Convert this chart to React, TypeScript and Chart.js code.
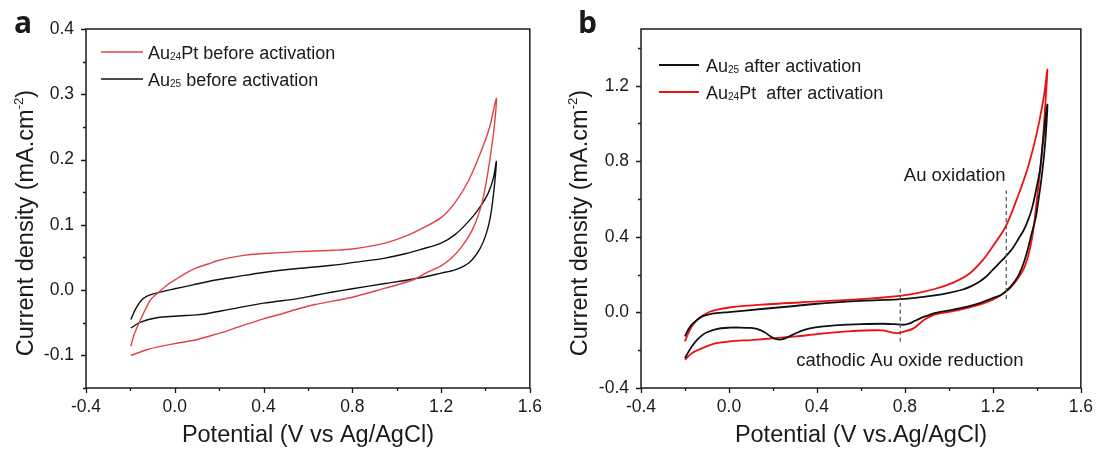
import React, { useEffect, useRef } from "react";
import { Chart, registerables } from "chart.js";

Chart.register(...registerables);

// ---------- Panel a data (before activation) ----------
const aPtV = [
  -0.198, -0.185, -0.17, -0.154, -0.13, -0.107, -0.068, -0.03, 0.003, 0.05, 0.098, 0.15, 0.192, 0.24, 0.318, 0.4, 0.554,
  0.712, 0.8, 0.948, 1.043, 1.106, 1.2, 1.263, 1.326, 1.389, 1.42, 1.449,
  1.44, 1.42, 1.4, 1.381, 1.342, 1.294, 1.247, 1.2, 1.137, 1.082, 1.011, 0.948, 0.8, 0.712, 0.633, 0.554, 0.476,
  0.4, 0.318, 0.24, 0.161, 0.098, 0, -0.076, -0.123, -0.198,
];
const aPtJ = [
  -0.086, -0.07, -0.057, -0.045, -0.028, -0.014, -0.002, 0.009, 0.016, 0.026, 0.034, 0.04, 0.045, 0.049, 0.0535, 0.056, 0.059,
  0.061, 0.063, 0.072, 0.083, 0.093, 0.111, 0.134, 0.169, 0.22, 0.251, 0.294,
  0.251, 0.2, 0.159, 0.129, 0.093, 0.067, 0.049, 0.037, 0.027, 0.017, 0.009, 0.003, -0.011, -0.017, -0.022, -0.029, -0.037,
  -0.044, -0.053, -0.062, -0.07, -0.076, -0.082, -0.087, -0.091, -0.1,
];
const aAuV = [
  -0.198, -0.178, -0.154, -0.123, -0.076, 0, 0.082, 0.161, 0.287, 0.4, 0.554, 0.712, 0.8, 0.948, 1.043, 1.106, 1.2,
  1.263, 1.326, 1.373, 1.413, 1.436, 1.449,
  1.44, 1.425, 1.405, 1.373, 1.326, 1.263, 1.2, 1.106, 0.948, 0.8, 0.712, 0.633, 0.554, 0.4, 0.24, 0.161, 0.098, 0.05,
  0, -0.076, -0.154, -0.198,
];
const aAuJ = [
  -0.045, -0.03, -0.017, -0.009, -0.004, 0.002, 0.008, 0.014, 0.021, 0.027, 0.033, 0.038, 0.042, 0.049, 0.056, 0.062, 0.072,
  0.085, 0.106, 0.126, 0.149, 0.172, 0.197,
  0.159, 0.118, 0.088, 0.062, 0.042, 0.031, 0.026, 0.019, 0.01, 0.002, -0.003, -0.008, -0.013, -0.02, -0.03, -0.035, -0.038, -0.039,
  -0.04, -0.042, -0.049, -0.058,
];

// ---------- Panel b data (after activation) ----------
const bAuV = [
  -0.2, -0.185, -0.169, -0.145, -0.121, -0.09, -0.058, 0, 0.147, 0.3, 0.4, 0.52, 0.62, 0.8, 0.935, 1.0, 1.06, 1.1, 1.14,
  1.17, 1.2, 1.23, 1.259, 1.29, 1.314, 1.34, 1.361, 1.38, 1.4, 1.415, 1.424, 1.433, 1.44, 1.448,
  1.444, 1.438, 1.43, 1.42, 1.408, 1.395, 1.377, 1.36, 1.345, 1.33, 1.314, 1.29, 1.267, 1.24, 1.2, 1.14, 1.08, 1.014, 0.96,
  0.935, 0.9, 0.872, 0.845, 0.825, 0.8, 0.75, 0.699, 0.6, 0.541, 0.47, 0.4, 0.35, 0.304, 0.27, 0.24, 0.21, 0.19, 0.162,
  0.13, 0.1, 0.05, 0, -0.058, -0.1, -0.121, -0.145, -0.169, -0.185, -0.2,
];
const bAuJ = [
  -0.127, -0.09, -0.065, -0.04, -0.021, -0.01, -0.004, 0.002, 0.018, 0.034, 0.046, 0.056, 0.062, 0.072, 0.09, 0.103, 0.12,
  0.138, 0.164, 0.19, 0.226, 0.262, 0.297, 0.34, 0.385, 0.435, 0.491, 0.56, 0.668, 0.76, 0.862, 0.96, 1.039, 1.1,
  1.0, 0.9, 0.8, 0.7, 0.6, 0.5, 0.42, 0.34, 0.279, 0.23, 0.191, 0.15, 0.12, 0.095, 0.076, 0.049, 0.03, 0.014, 0.003,
  -0.004, -0.018, -0.03, -0.045, -0.057, -0.065, -0.062, -0.06, -0.062, -0.065, -0.07, -0.078, -0.09, -0.11, -0.13, -0.143,
  -0.14, -0.128, -0.105, -0.088, -0.082, -0.08, -0.081, -0.088, -0.105, -0.12, -0.145, -0.18, -0.21, -0.242,
];
const bPtV = [
  -0.2, -0.185, -0.169, -0.145, -0.121, -0.09, -0.058, 0, 0.147, 0.4, 0.62, 0.778, 0.856, 0.935, 1.014, 1.093, 1.156, 1.2,
  1.259, 1.314, 1.361, 1.4, 1.432, 1.448,
  1.44, 1.424, 1.4, 1.377, 1.345, 1.298, 1.251, 1.2, 1.14, 1.014, 0.935, 0.888, 0.841, 0.8, 0.762, 0.699, 0.541, 0.4,
  0.304, 0.21, 0.115, 0, -0.058, -0.121, -0.169, -0.2,
];
const bPtJ = [
  -0.154, -0.11, -0.074, -0.04, -0.018, 0.002, 0.014, 0.026, 0.041, 0.058, 0.072, 0.088, 0.102, 0.124, 0.155, 0.205, 0.279,
  0.35, 0.456, 0.615, 0.774, 0.95, 1.145, 1.286,
  1.127, 0.862, 0.597, 0.385, 0.244, 0.155, 0.102, 0.067, 0.041, 0.005, -0.012, -0.039, -0.083, -0.1, -0.11, -0.095, -0.1,
  -0.115, -0.127, -0.136, -0.145, -0.154, -0.163, -0.189, -0.216, -0.251,
];

// ---------- Axes ----------
const xMajor = [-0.4, 0.0, 0.4, 0.8, 1.2, 1.6];
const xMinor = [-0.2, 0.2, 0.6, 1.0, 1.4];
const aYMajor = [-0.1, 0.0, 0.1, 0.2, 0.3, 0.4];
const aYMinor = [-0.15, -0.05, 0.05, 0.15, 0.25, 0.35];
const bYMajor = [-0.4, 0.0, 0.4, 0.8, 1.2];
const bYMinor = [-0.2, 0.2, 0.6, 1.0, 1.4];

// ---------- Annotations (panel b, data units) ----------
const bDashX = [0.779, 1.261];
const bDashY0 = [-0.155, 0.071];
const bDashY1 = [0.141, 0.645];
const bNotes = ["Au oxidation", "cathodic Au oxide reduction"];
const bNoteX = [0.795, 0.306];
const bNoteY = [0.728, -0.25];

const FONT = "'Liberation Sans', Arial, sans-serif";

type Part = { t: string; k?: "sub" | "sup" };

function partsWidth(ctx: CanvasRenderingContext2D, parts: Part[], size: number) {
  let w = 0;
  for (const p of parts) {
    const fs = p.k ? size * 0.56 : size;
    ctx.font = `${fs}px ${FONT}`;
    w += ctx.measureText(p.t).width;
  }
  return w;
}

function drawParts(ctx: CanvasRenderingContext2D, parts: Part[], x: number, y: number, size: number) {
  let cx = x;
  ctx.textBaseline = "alphabetic";
  ctx.textAlign = "left";
  for (const p of parts) {
    const fs = p.k ? size * 0.56 : size;
    ctx.font = `${fs}px ${FONT}`;
    const dy = p.k === "sub" ? size * 0.08 : p.k === "sup" ? -size * 0.42 : 0;
    ctx.fillText(p.t, cx, y + dy);
    cx += ctx.measureText(p.t).width;
  }
}

type LegendItem = { parts: Part[]; color: string; width: number };

type DecorCfg = {
  letter: string;
  letterX: number;
  yTitle: Part[];
  yTitleX: number;
  xTitle: Part[];
  yMajor: number[];
  yMinor: number[];
  legend: LegendItem[];
  legendX0: number;
  legendX1: number;
  legendTextX: number;
  legendY: number[];
  dashes?: boolean;
  notes?: boolean;
};

function decor(cfg: DecorCfg) {
  return {
    id: "decor",
    afterDatasetsDraw(chart: any) {
      const ctx: CanvasRenderingContext2D = chart.ctx;
      const { left, right, top, bottom } = chart.chartArea;
      const xs = chart.scales.x;
      const ys = chart.scales.y;
      ctx.save();
      // dashed markers
      if (cfg.dashes) {
        ctx.strokeStyle = "#555";
        ctx.lineWidth = 1.2;
        ctx.setLineDash([4, 3]);
        for (let i = 0; i < bDashX.length; i++) {
          const px = xs.getPixelForValue(bDashX[i]);
          ctx.beginPath();
          ctx.moveTo(px, ys.getPixelForValue(bDashY0[i]));
          ctx.lineTo(px, ys.getPixelForValue(bDashY1[i]));
          ctx.stroke();
        }
        ctx.setLineDash([]);
      }
      // frame
      ctx.strokeStyle = "#1a1a1a";
      ctx.lineWidth = 1.5;
      ctx.strokeRect(left, top, right - left, bottom - top);
      // ticks
      ctx.lineWidth = 1.3;
      ctx.beginPath();
      for (const v of xMajor) {
        const p = Math.round(xs.getPixelForValue(v)) + 0.5;
        ctx.moveTo(p, bottom);
        ctx.lineTo(p, bottom + 5);
      }
      for (const v of xMinor) {
        const p = Math.round(xs.getPixelForValue(v)) + 0.5;
        ctx.moveTo(p, bottom);
        ctx.lineTo(p, bottom + 3);
      }
      for (const v of cfg.yMajor) {
        const p = Math.round(ys.getPixelForValue(v)) + 0.5;
        ctx.moveTo(left, p);
        ctx.lineTo(left - 5, p);
      }
      for (const v of cfg.yMinor) {
        const p = Math.round(ys.getPixelForValue(v)) + 0.5;
        ctx.moveTo(left, p);
        ctx.lineTo(left - 3, p);
      }
      ctx.stroke();

      ctx.fillStyle = "#1a1a1a";
      // panel letter
      ctx.font = `bold 30px 'Open Sans', 'DejaVu Sans', sans-serif`;
      ctx.textAlign = "left";
      ctx.textBaseline = "alphabetic";
      ctx.fillText(cfg.letter, cfg.letterX, 33);

      // x title
      const xts = 23.5;
      const xw = partsWidth(ctx, cfg.xTitle, xts);
      drawParts(ctx, cfg.xTitle, (left + right) / 2 - xw / 2, 442, xts);

      // y title
      const yts = 23.5;
      const yw = partsWidth(ctx, cfg.yTitle, yts);
      ctx.save();
      ctx.translate(cfg.yTitleX, 223);
      ctx.rotate(-Math.PI / 2);
      drawParts(ctx, cfg.yTitle, -yw / 2, 0, yts);
      ctx.restore();

      // legend
      const ls = 18;
      cfg.legend.forEach((it, i) => {
        const y = cfg.legendY[i];
        ctx.strokeStyle = it.color;
        ctx.lineWidth = it.width;
        ctx.beginPath();
        ctx.moveTo(cfg.legendX0, y);
        ctx.lineTo(cfg.legendX1, y);
        ctx.stroke();
        ctx.fillStyle = "#1a1a1a";
        drawParts(ctx, it.parts, cfg.legendTextX, y + 6.5, ls);
      });

      // notes
      if (cfg.notes) {
        ctx.fillStyle = "#1a1a1a";
        ctx.font = `18.5px ${FONT}`;
        ctx.textAlign = "left";
        ctx.textBaseline = "alphabetic";
        for (let i = 0; i < bNotes.length; i++) {
          ctx.fillText(bNotes[i], xs.getPixelForValue(bNoteX[i]), ys.getPixelForValue(bNoteY[i]) + 6.6);
        }
      }
      ctx.restore();
    },
  };
}

function zip(v: number[], j: number[]) {
  return v.map((x, i) => ({ x, y: j[i] }));
}

function makeConfig(opts: {
  datasets: any[];
  yMin: number;
  yMax: number;
  yMajor: number[];
  yAxisWidth: number;
  padRight: number;
  plugin: any;
}) {
  const tickFont = { family: FONT, size: 17.5 };
  return {
    type: "scatter" as const,
    data: { datasets: opts.datasets },
    options: {
      animation: false,
      responsive: false,
      devicePixelRatio: 1,
      layout: { padding: { left: 0, right: opts.padRight, top: 29, bottom: 0 } },
      plugins: { legend: { display: false }, tooltip: { enabled: false }, title: { display: false } },
      elements: { point: { radius: 0, hoverRadius: 0 } },
      scales: {
        x: {
          type: "linear",
          min: -0.4,
          max: 1.6,
          grid: { display: false, drawTicks: false },
          border: { display: false },
          afterBuildTicks: (s: any) => {
            s.ticks = xMajor.map((v) => ({ value: v }));
          },
          afterFit: (s: any) => {
            s.height = 62;
          },
          ticks: {
            autoSkip: false,
            maxRotation: 0,
            padding: 9,
            color: "#1a1a1a",
            font: tickFont,
            callback: (v: any) => Number(v).toFixed(1),
          },
        },
        y: {
          type: "linear",
          min: opts.yMin,
          max: opts.yMax,
          grid: { display: false, drawTicks: false },
          border: { display: false },
          afterBuildTicks: (s: any) => {
            s.ticks = opts.yMajor.map((v) => ({ value: v }));
          },
          afterFit: (s: any) => {
            s.width = opts.yAxisWidth;
          },
          ticks: {
            autoSkip: false,
            padding: 12,
            color: "#1a1a1a",
            font: tickFont,
            callback: (v: any) => Number(v).toFixed(1),
          },
        },
      },
    },
    plugins: [opts.plugin],
  };
}

function PanelA() {
  const ref = useRef<HTMLCanvasElement>(null);
  useEffect(() => {
    if (!ref.current) return;
    const red = "#e04444";
    const cfg: any = makeConfig({
      datasets: [
        { label: "Au24Pt before activation", data: zip(aPtV, aPtJ), showLine: true, borderColor: red, borderWidth: 1.4, tension: 0.3, pointRadius: 0 },
        { label: "Au25 before activation", data: zip(aAuV, aAuJ), showLine: true, borderColor: "#111", borderWidth: 1.4, tension: 0.3, pointRadius: 0 },
      ],
      yMin: -0.15,
      yMax: 0.4,
      yMajor: aYMajor,
      yAxisWidth: 86,
      padRight: 20,
      plugin: decor({
        letter: "a",
        letterX: 14,
        yTitle: [{ t: "Current density (mA.cm" }, { t: "-2", k: "sup" }, { t: ")" }],
        yTitleX: 33,
        xTitle: [{ t: "Potential (V vs Ag/AgCl)" }],
        yMajor: aYMajor,
        yMinor: aYMinor,
        legend: [
          { parts: [{ t: "Au" }, { t: "24", k: "sub" }, { t: "Pt before activation" }], color: red, width: 1.4 },
          { parts: [{ t: "Au" }, { t: "25", k: "sub" }, { t: " before activation" }], color: "#111", width: 1.6 },
        ],
        legendX0: 101,
        legendX1: 143,
        legendTextX: 148,
        legendY: [52, 79],
      }),
    });
    const c = new Chart(ref.current, cfg);
    return () => c.destroy();
  }, []);
  return <canvas ref={ref} width={551} height={450} style={{ width: 551, height: 450, display: "block" }} />;
}

function PanelB() {
  const ref = useRef<HTMLCanvasElement>(null);
  useEffect(() => {
    if (!ref.current) return;
    const red = "#ee1111";
    const cfg: any = makeConfig({
      datasets: [
        { label: "Au25 after activation", data: zip(bAuV, bAuJ), showLine: true, borderColor: "#111", borderWidth: 1.8, tension: 0.3, pointRadius: 0 },
        { label: "Au24Pt after activation", data: zip(bPtV, bPtJ), showLine: true, borderColor: red, borderWidth: 1.8, tension: 0.3, pointRadius: 0 },
      ],
      yMin: -0.4,
      yMax: 1.5,
      yMajor: bYMajor,
      yAxisWidth: 90,
      padRight: 17,
      plugin: decor({
        letter: "b",
        letterX: 27,
        yTitle: [{ t: "Current density (mA.cm" }, { t: "-2", k: "sup" }, { t: ")" }],
        yTitleX: 36,
        xTitle: [{ t: "Potential (V vs.Ag/AgCl)" }],
        yMajor: bYMajor,
        yMinor: bYMinor,
        legend: [
          { parts: [{ t: "Au" }, { t: "25", k: "sub" }, { t: " after activation" }], color: "#111", width: 1.8 },
          { parts: [{ t: "Au" }, { t: "24", k: "sub" }, { t: "Pt  after activation" }], color: red, width: 1.8 },
        ],
        legendX0: 108,
        legendX1: 148,
        legendTextX: 155,
        legendY: [65, 92],
        dashes: true,
        notes: true,
      }),
    });
    const c = new Chart(ref.current, cfg);
    return () => c.destroy();
  }, []);
  return <canvas ref={ref} width={551} height={450} style={{ width: 551, height: 450, display: "block" }} />;
}

export default function App() {
  return (
    <div
      style={{
        position: "absolute",
        left: 0,
        top: 0,
        width: 1102,
        height: 450,
        background: "#fff",
        display: "flex",
        overflow: "hidden",
      }}
    >
      <PanelA />
      <PanelB />
    </div>
  );
}
